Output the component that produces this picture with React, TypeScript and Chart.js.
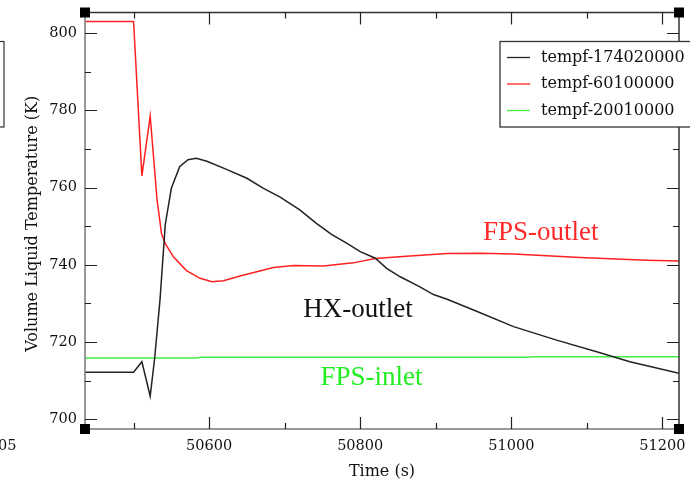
import { useEffect, useRef } from "react";
import { Chart, registerables } from "chart.js";

Chart.register(...registerables);

// ---- Data ----
const hxTime = [50436, 50500, 50511, 50522, 50528, 50535, 50542, 50550, 50561, 50572, 50583, 50597, 50623, 50650, 50672, 50694, 50720, 50742, 50762, 50782, 50800, 50820, 50835, 50853, 50879, 50897, 50915, 50950, 51003, 51060, 51113, 51157, 51222];
const hxTemp = [712.2, 712.2, 714.9, 706.0, 716.0, 731.0, 750.5, 759.8, 765.4, 767.2, 767.6, 766.8, 764.7, 762.4, 759.8, 757.5, 754.2, 750.7, 747.9, 745.6, 743.4, 741.7, 739.1, 736.9, 734.3, 732.3, 731.1, 728.3, 724.0, 720.5, 717.5, 714.9, 711.9];

const fpsOutTime = [50436, 50500, 50511, 50522, 50531, 50537, 50542, 50553, 50570, 50588, 50604, 50619, 50641, 50667, 50685, 50712, 50751, 50791, 50820, 50866, 50915, 50960, 51003, 51091, 51179, 51222];
const fpsOutTemp = [803.0, 803.0, 763.0, 778.5, 757.0, 748.0, 745.5, 742.0, 738.5, 736.5, 735.6, 735.9, 737.1, 738.4, 739.3, 739.8, 739.7, 740.5, 741.6, 742.3, 742.9, 743.0, 742.8, 741.9, 741.2, 741.0];

const fpsInTime = [50436, 50583, 50590, 51020, 51030, 51222];
const fpsInTemp = [715.9, 715.9, 716.1, 716.1, 716.2, 716.2];

const seriesLabels = ["tempf-174020000", "tempf-60100000", "tempf-20010000"];
const seriesColors = ["#222222", "#ff2020", "#44ee44"];

const xMajorTicks = [50600, 50800, 51000, 51200];
const xMinorTicks = [50500, 50700, 50900, 51100];
const yMajorTicks = [700, 720, 740, 760, 780, 800];
const yMinorTicks = [710, 730, 750, 770, 790];

const xRange = [50435.7, 51222];
const yRange = [697.5, 805.3];

const notes = [
  { text: "FPS-outlet", x: 51039, y: 748.2, color: "#ff2a2a" },
  { text: "HX-outlet", x: 50797, y: 728.3, color: "#111111" },
  { text: "FPS-inlet", x: 50815, y: 710.7, color: "#22ee22" },
];

const toPoints = (t: number[], v: number[]) => t.map((x, i) => ({ x, y: v[i] }));

const decorPlugin = {
  id: "decor",
  afterDatasetsDraw(chart: any) {
    const ctx = chart.ctx as CanvasRenderingContext2D;
    const { left, right, top, bottom } = chart.chartArea;
    const xs = chart.scales.x;
    const ys = chart.scales.y;
    ctx.save();

    // frame
    ctx.lineWidth = 1.5;
    ctx.strokeStyle = "#333";
    ctx.beginPath();
    ctx.moveTo(left, top); ctx.lineTo(right, top);
    ctx.moveTo(right, top); ctx.lineTo(right, bottom);
    ctx.stroke();
    ctx.strokeStyle = "#777";
    ctx.beginPath();
    ctx.moveTo(left, top); ctx.lineTo(left, bottom);
    ctx.moveTo(left, bottom); ctx.lineTo(right, bottom);
    ctx.stroke();

    // ticks
    ctx.strokeStyle = "#222";
    ctx.lineWidth = 1.2;
    const drawX = (v: number, len: number) => {
      const px = Math.round(xs.getPixelForValue(v)) + 0.5;
      ctx.beginPath();
      ctx.moveTo(px, bottom); ctx.lineTo(px, bottom - len);
      ctx.moveTo(px, top); ctx.lineTo(px, top + len);
      ctx.stroke();
    };
    const drawY = (v: number, len: number) => {
      const py = Math.round(ys.getPixelForValue(v)) + 0.5;
      ctx.beginPath();
      ctx.moveTo(left, py); ctx.lineTo(left + len, py);
      ctx.moveTo(right, py); ctx.lineTo(right - len, py);
      ctx.stroke();
    };
    xMajorTicks.forEach((v) => drawX(v, 12));
    xMinorTicks.forEach((v) => drawX(v, 6));
    yMajorTicks.forEach((v) => drawY(v, 12));
    yMinorTicks.forEach((v) => drawY(v, 6));

    // tick labels
    ctx.fillStyle = "#111";
    ctx.font = "14.5px 'DejaVu Serif'";
    ctx.textAlign = "center";
    ctx.textBaseline = "middle";
    xMajorTicks.forEach((v) => ctx.fillText(String(v), xs.getPixelForValue(v), bottom + 17));
    ctx.textAlign = "right";
    yMajorTicks.forEach((v) => ctx.fillText(String(v), left - 8, ys.getPixelForValue(v)));
    // cropped fragment of a neighbouring label
    ctx.textAlign = "left";
    ctx.fillText("05", -2, bottom + 17);

    // axis titles
    ctx.font = "16px 'DejaVu Serif'";
    ctx.textAlign = "center";
    ctx.fillText("Time (s)", (left + right) / 2, bottom + 43);
    ctx.save();
    ctx.translate(33, (top + bottom) / 2 + 3);
    ctx.rotate(-Math.PI / 2);
    ctx.fillText("Volume Liquid Temperature (K)", 0, 0);
    ctx.restore();

    // corner squares
    ctx.fillStyle = "#000";
    const sq = 10;
    [[left, top], [right, top], [left, bottom], [right, bottom]].forEach(([x, y]) => {
      ctx.fillRect(x - sq / 2, y - sq / 2, sq, sq);
    });

    // cropped box fragment at far left
    ctx.strokeStyle = "#333";
    ctx.lineWidth = 1.2;
    ctx.strokeRect(-10, 41.5, 14, 85.5);

    // legend
    const lx = 500, ly = 41.5, lw = 200, lh = 85.5;
    ctx.fillStyle = "#fff";
    ctx.fillRect(lx, ly, lw, lh);
    ctx.strokeStyle = "#333";
    ctx.lineWidth = 1.3;
    ctx.strokeRect(lx, ly, lw, lh);
    ctx.font = "16px 'DejaVu Serif'";
    ctx.textAlign = "left";
    ctx.textBaseline = "middle";
    chart.data.datasets.forEach((ds: any, i: number) => {
      const yy = 57.5 + i * 26.5;
      ctx.strokeStyle = ds.borderColor;
      ctx.lineWidth = 1.3;
      ctx.beginPath();
      ctx.moveTo(507, yy); ctx.lineTo(530, yy);
      ctx.stroke();
      ctx.fillStyle = "#111";
      ctx.fillText(ds.label, 541, yy);
    });

    // annotations
    ctx.font = "27px 'Liberation Serif'";
    ctx.textAlign = "center";
    ctx.textBaseline = "middle";
    notes.forEach((n) => {
      ctx.fillStyle = n.color;
      ctx.fillText(n.text, xs.getPixelForValue(n.x), ys.getPixelForValue(n.y));
    });

    ctx.restore();
  },
};

export default function App() {
  const ref = useRef<HTMLCanvasElement | null>(null);
  useEffect(() => {
    if (!ref.current) return;
    const chart = new Chart(ref.current, {
      type: "line",
      data: {
        datasets: [
          { label: seriesLabels[0], data: toPoints(hxTime, hxTemp), borderColor: seriesColors[0] },
          { label: seriesLabels[1], data: toPoints(fpsOutTime, fpsOutTemp), borderColor: seriesColors[1] },
          { label: seriesLabels[2], data: toPoints(fpsInTime, fpsInTemp), borderColor: seriesColors[2] },
        ],
      },
      options: {
        animation: false,
        responsive: false,
        devicePixelRatio: 1,
        layout: { padding: { left: 85, right: 11, top: 12.5, bottom: 53 } },
        elements: {
          point: { radius: 0 },
          line: { borderWidth: 1.5, tension: 0 },
        },
        scales: {
          x: { type: "linear", display: false, min: xRange[0], max: xRange[1] },
          y: { type: "linear", display: false, min: yRange[0], max: yRange[1] },
        },
        plugins: { legend: { display: false }, tooltip: { enabled: false } },
      },
      plugins: [decorPlugin],
    });
    return () => chart.destroy();
  }, []);
  return (
    <div style={{ position: "fixed", left: 0, top: 0, width: 690, height: 482, background: "#fff" }}>
      <canvas ref={ref} width={690} height={482} style={{ display: "block" }} />
    </div>
  );
}
